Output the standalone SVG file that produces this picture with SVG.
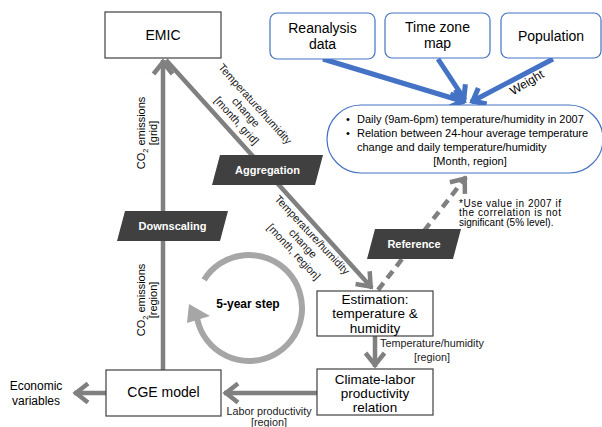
<svg xmlns="http://www.w3.org/2000/svg" width="602" height="427" viewBox="0 0 602 427">
<style>
text{font-family:"Liberation Sans",Arial,sans-serif;fill:#000}
.box{fill:#fff;stroke:#404040;stroke-width:1.2}
.bbox{fill:#fff;stroke:#4472c4;stroke-width:1.2}
.t14{font-size:14px;text-anchor:middle}
.t13{font-size:13.5px;text-anchor:middle}
.t11{font-size:11px}
.sm{font-size:10.8px;text-anchor:middle;fill:#1a1a1a}
.para{fill:#404040}
.pt{font-size:11px;font-weight:bold;fill:#fff;text-anchor:middle}
.conn{fill:none;stroke:#808080;stroke-width:4.5}
.blue{fill:none;stroke:#4472c4;stroke-width:5}
</style>
<defs>
<marker id="ga" viewBox="-20 -14 26 28" refX="0" refY="0" markerWidth="26" markerHeight="28" markerUnits="userSpaceOnUse" orient="auto">
<path d="M-14,-9.5 L-2,0 L-14,9.5" fill="none" stroke="#808080" stroke-width="4.5" stroke-dasharray="none"/>
</marker>
<marker id="ba" viewBox="-20 -14 26 28" refX="0" refY="0" markerWidth="26" markerHeight="28" markerUnits="userSpaceOnUse" orient="auto">
<path d="M-13,-9 L-2,0 L-13,9" fill="none" stroke="#4472c4" stroke-width="5"/>
</marker>
</defs>

<g id="connectors">
<line class="blue" x1="323" y1="59" x2="465" y2="102" marker-end="url(#ba)"/>
<line class="blue" x1="438" y1="59" x2="465" y2="100" marker-end="url(#ba)"/>
<line class="blue" x1="553" y1="59" x2="471" y2="102" marker-end="url(#ba)"/>
<line class="conn" x1="163" y1="370" x2="163" y2="60" marker-end="url(#ga)"/>
<line class="conn" x1="166" y1="60" x2="372" y2="288" marker-end="url(#ga)"/>
<line class="conn" x1="378" y1="290" x2="466" y2="177" stroke-dasharray="9,6" marker-end="url(#ga)"/>
<line class="conn" x1="375" y1="336" x2="375" y2="367" marker-end="url(#ga)"/>
<line class="conn" x1="317" y1="393" x2="224" y2="393" marker-end="url(#ga)"/>
<line class="conn" x1="106" y1="393" x2="74" y2="393" marker-end="url(#ga)"/>
<path d="M204.1,279.9 A53,53 0 1 1 197.2,319" fill="none" stroke="#a6a6a6" stroke-width="6"/>
<polygon points="189,304 187,323 210,316" fill="#a6a6a6"/>
<text class="sm" transform="translate(255,104) rotate(48)"><tspan x="0" y="3.5">Temperature/humidity</tspan><tspan x="0" y="16">change</tspan><tspan x="0" y="28.5">[month, grid]</tspan></text>
<text class="sm" transform="translate(312,235) rotate(47)"><tspan x="0" y="3.5">Temperature/humidity</tspan><tspan x="0" y="16">change</tspan><tspan x="0" y="28.5">[month, region]</tspan></text>
<text class="t11" text-anchor="middle" transform="translate(145,133) rotate(-90)">CO<tspan font-size="7.5" dy="2.5">2</tspan><tspan dy="-2.5"> emissions</tspan></text>
<text class="t11" text-anchor="middle" transform="translate(157,133) rotate(-90)">[grid]</text>
<text class="t11" text-anchor="middle" transform="translate(145,300) rotate(-90)">CO<tspan font-size="7.5" dy="2.5">2</tspan><tspan dy="-2.5"> emissions</tspan></text>
<text class="t11" text-anchor="middle" transform="translate(157,300) rotate(-90)">[region]</text>
<text font-size="12px" text-anchor="middle" transform="translate(529,86) rotate(-31)" fill="#1a1a1a">Weight</text>
<text class="sm" font-size="10.5px" x="432" y="347">Temperature/humidity</text>
<text class="sm" font-size="10.5px" x="432" y="361">[region]</text>
<text class="sm" font-size="10.5px" x="269" y="415">Labor productivity</text>
<text class="sm" font-size="10.5px" x="269" y="425.5">[region]</text>
<text font-size="10px" x="459" y="206.5" textLength="102" lengthAdjust="spacing" fill="#1a1a1a">*Use value in 2007 if</text>
<text font-size="10px" x="459" y="216" textLength="102" lengthAdjust="spacing" fill="#1a1a1a">the correlation is not</text>
<text font-size="10px" x="459" y="225.5" fill="#1a1a1a">significant (5% level).</text>
<text font-size="12px" font-weight="bold" text-anchor="middle" x="248" y="308">5-year step</text>
</g>

<g id="emic">
<rect class="box" x="105" y="12" width="116" height="46"/>
<text class="t14" x="163" y="40">EMIC</text>
</g>
<g id="reanalysis">
<rect class="bbox" x="270" y="13" width="105" height="46" rx="7"/>
<text class="t14" x="322.5" y="33">Reanalysis</text>
<text class="t14" x="322.5" y="49">data</text>
</g>
<g id="timezone">
<rect class="bbox" x="385" y="13" width="105" height="45" rx="7"/>
<text class="t14" x="437.5" y="32">Time zone</text>
<text class="t14" x="437.5" y="48">map</text>
</g>
<g id="population">
<rect class="bbox" x="501" y="13" width="100" height="45" rx="7"/>
<text class="t14" x="551" y="41">Population</text>
</g>
<g id="daily">
<rect class="bbox" x="327" y="105" width="276" height="68" rx="34"/>
<text class="t11" x="346" y="123">•</text>
<text class="t11" x="357" y="123">Daily (9am-6pm) temperature/humidity in 2007</text>
<text class="t11" x="346" y="137">•</text>
<text class="t11" x="357" y="137">Relation between 24-hour average temperature</text>
<text class="t11" x="357" y="151">change and daily temperature/humidity</text>
<text class="t11" x="470" y="165" text-anchor="middle">[Month, region]</text>
</g>
<g id="aggregation">
<polygon class="para" points="220,155 323,155 315,185 212,185"/>
<text class="pt" x="267.5" y="174">Aggregation</text>
</g>
<g id="downscaling">
<polygon class="para" points="125,211 228,211 220,241 117,241"/>
<text class="pt" x="172.5" y="230">Downscaling</text>
</g>
<g id="reference">
<polygon class="para" points="375,229 461,229 453,259 367,259"/>
<text class="pt" x="414" y="248">Reference</text>
</g>
<g id="estimation">
<rect class="box" x="317" y="291" width="116" height="45"/>
<text class="t13" x="375" y="303.5">Estimation:</text>
<text class="t13" x="375" y="318">temperature &amp;</text>
<text class="t13" x="375" y="332.5">humidity</text>
</g>
<g id="climate">
<rect class="box" x="317" y="369" width="116" height="46"/>
<text class="t13" x="375" y="383.5">Climate-labor</text>
<text class="t13" x="375" y="397.5">productivity</text>
<text class="t13" x="375" y="411.5">relation</text>
</g>
<g id="cge">
<rect class="box" x="106" y="370" width="115" height="46"/>
<text class="t14" x="163.5" y="397">CGE model</text>
</g>
<g id="economic">
<text font-size="12px" text-anchor="middle" x="36" y="390">Economic</text>
<text font-size="12px" text-anchor="middle" x="36" y="405">variables</text>
</g>
</svg>
